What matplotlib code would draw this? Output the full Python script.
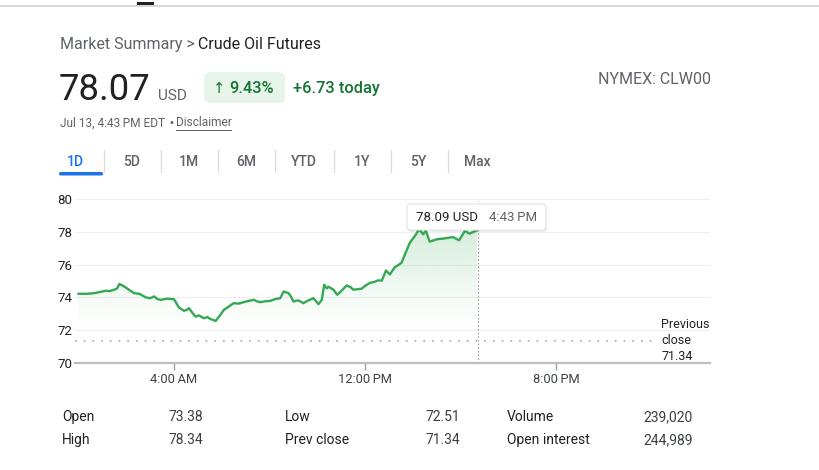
import matplotlib
matplotlib.use("Agg")
import matplotlib.pyplot as plt
import numpy as np
from matplotlib.patches import FancyBboxPatch, Rectangle
from matplotlib.colors import to_rgb

plt.rcParams['font.family'] = ['Roboto', 'DejaVu Sans']

# ---- data (hours since midnight, price in USD) ----
hours = [0.0, 0.35, 0.66, 0.9, 1.15, 1.3, 1.5, 1.62, 1.71, 1.9, 2.1, 2.33, 2.55, 2.82,
         3.0, 3.17, 3.3, 3.44, 3.7, 4.0, 4.21, 4.42, 4.55, 4.63, 4.75, 4.9, 5.05, 5.25,
         5.4, 5.53, 5.65, 5.74, 5.9, 6.09, 6.3, 6.5, 6.7, 6.92, 7.1, 7.34, 7.5, 7.62,
         7.8, 8.03, 8.25, 8.45, 8.59, 8.8, 8.92, 9.0, 9.2, 9.42, 9.6, 9.84, 10.05, 10.19,
         10.29, 10.4, 10.47, 10.68, 10.84, 11.02, 11.23, 11.4, 11.51, 11.7, 11.86, 12.0,
         12.2, 12.4, 12.55, 12.7, 12.88, 13.04, 13.25, 13.53, 13.67, 13.88, 14.09, 14.27,
         14.43, 14.55, 14.71, 14.99, 15.34, 15.69, 15.94, 16.18, 16.38, 16.69]
prices = [74.22, 74.22, 74.26, 74.33, 74.41, 74.38, 74.47, 74.55, 74.82, 74.68, 74.48,
          74.26, 74.22, 74.0, 73.95, 74.06, 73.9, 73.85, 73.92, 73.89, 73.38, 73.18, 73.25,
          73.34, 73.1, 72.83, 72.9, 72.73, 72.8, 72.68, 72.62, 72.56, 72.85, 73.24, 73.45,
          73.65, 73.62, 73.71, 73.78, 73.85, 73.75, 73.71, 73.76, 73.79, 73.9, 73.95, 74.36,
          74.26, 74.0, 73.75, 73.82, 73.65, 73.8, 73.95, 73.59, 73.85, 74.77, 74.55, 74.65,
          74.47, 74.16, 74.41, 74.73, 74.62, 74.47, 74.5, 74.53, 74.7, 74.88, 74.95, 75.04,
          75.02, 75.64, 75.4, 75.84, 76.11, 76.62, 77.34, 77.75, 78.16, 77.85, 78.06, 77.4,
          77.54, 77.6, 77.68, 77.48, 78.05, 77.89, 78.09]

last_price = "78.07"
prev_close = 71.34
now_hour = 16.72
y_ticks = [70, 72, 74, 76, 78, 80]
x_ticks = [4, 12, 20]
x_labels = ["4:00\u2009AM", "12:00\u2009PM", "8:00\u2009PM"]
tabs = ["1D", "5D", "1M", "6M", "YTD", "1Y", "5Y", "Max"]
stats_left = [("Open", "73.38"), ("High", "78.34")]
stats_mid = [("Low", "72.51"), ("Prev close", "71.34")]
stats_right = [("Volume", "239,020"), ("Open interest", "244,989")]

W, H = 819, 470
GREEN = '#34a853'
DARK = '#202124'
GRAY = '#5f6368'

fig = plt.figure(figsize=(W / 100, H / 100), dpi=100)
fig.patch.set_facecolor('white')

# ---- chart ----
left_px, right_px, top_px, bot_px = 75, 710, 199, 363
ax = fig.add_axes([left_px / W, 1 - bot_px / H, (right_px - left_px) / W, (bot_px - top_px) / H])
px_per_hour = 191 / 8
x0 = 4 - (174 - left_px) / px_per_hour
x1 = x0 + (right_px - left_px) / px_per_hour
ax.set_xlim(x0, x1)
ax.set_ylim(70, 80)
for s in ax.spines.values():
    s.set_visible(False)

for yv in y_ticks[1:]:
    ax.axhline(yv, color='#eeeeee', lw=0.8, zorder=0)
ax.axhline(70, color='#bdbdbd', lw=1.6, zorder=3, clip_on=False)

# gradient fill under the line
poly = ax.fill_between(hours, prices, 70, color='none', lw=0)
n = 256
grad = np.zeros((n, 1, 4))
grad[:, 0, :3] = to_rgb(GREEN)
yy = np.linspace(78.4, 70, n)
grad[:, 0, 3] = np.clip((yy - 71.8) / (78.4 - 71.8), 0, 1) ** 1.3 * 0.22
img = ax.imshow(grad, extent=[x0, x1, 70, 78.4], aspect='auto', zorder=1, interpolation='bilinear')
img.set_clip_path(poly.get_paths()[0], transform=ax.transData)

ax.plot(hours, prices, color=GREEN, lw=1.7, zorder=4, solid_joinstyle='round')

# previous close dotted line
ax.plot([x0, x0 + (655 - left_px) / px_per_hour], [prev_close, prev_close],
        color='#9aa0a6', lw=1.1, linestyle=(0, (1.1, 4.6)), zorder=2)
# current time dotted line
ax.axvline(now_hour, ymin=0, ymax=0.99, color='#9aa0a6', lw=0.8, linestyle=(0, (1.5, 1.8)), zorder=2)

ax.set_yticks(y_ticks)
ax.set_yticklabels([str(v) for v in y_ticks])
ax.set_xticks(x_ticks)
ax.set_xticklabels(x_labels)
ax.tick_params(axis='y', length=0, pad=2, labelsize=9.5, labelcolor=DARK)
ax.tick_params(axis='x', length=5, width=1, color='#9aa0a6', pad=2, labelsize=9.3, labelcolor='#3c4043')
ax.patch.set_alpha(0)

# ---- overlay in pixel coordinates ----
ov = fig.add_axes([0, 0, 1, 1], zorder=5)
ov.set_xlim(0, W)
ov.set_ylim(H, 0)
ov.axis('off')
ov.patch.set_alpha(0)

# top bar
ov.plot([0, W], [5.5, 5.5], color='#d0d0d0', lw=1.2)
ov.add_patch(Rectangle((137, 1.5), 17, 3.5, color='#202124', lw=0))

ov.text(60, 44.5, "Market Summary > ", fontsize=11.5, color=GRAY, va='center')
ov.text(198.5, 44.5, "Crude Oil Futures", fontsize=11.5, color=DARK, va='center')

ov.text(58.5, 100.5, last_price, fontsize=26.3, color=DARK, va='baseline')
ov.text(158, 100.5, "USD", fontsize=11, color=GRAY, va='baseline')

ov.add_patch(FancyBboxPatch((204, 72), 81, 31, boxstyle="round,pad=0,rounding_size=7",
                            facecolor='#e6f4ea', edgecolor='none'))
ov.text(213, 88.5, "\u2191", fontsize=10.5, color='#137333', va='center', family=['DejaVu Sans'])
ov.text(229, 88.5, "9.43%", fontsize=11.8, color='#137333', va='center', fontweight='medium')
ov.text(293, 88.5, "+6.73 today", fontsize=11.8, color='#137333', va='center', fontweight='medium')

ov.text(711, 80, "NYMEX: CLW00", fontsize=11.5, color=GRAY, va='center', ha='right')

ov.text(60, 123, "Jul 13, 4:43\u2009PM EDT", fontsize=8.6, color=GRAY, va='center')
ov.text(168.5, 123, "\u2022", fontsize=7, color=GRAY, va='center', family=['DejaVu Sans'])
ov.text(176, 123, "Disclaimer", fontsize=8.6, color=GRAY, va='center')
ov.plot([176, 231], [129.5, 129.5], color=GRAY, lw=0.7)

# tabs
tab_x = [75, 132, 188.5, 246, 304, 362, 418.5, 477.5]
sep_x = [103.5, 160.5, 217.5, 274.5, 333.5, 390.5, 447.5]
for t, tx in zip(tabs, tab_x):
    ov.text(tx, 161.5, t, fontsize=10, color='#1a73e8' if t == "1D" else GRAY,
            ha='center', va='center', fontweight='medium')
for sx in sep_x:
    ov.plot([sx, sx], [150, 172], color='#dadce0', lw=0.9)
ov.add_patch(FancyBboxPatch((59, 172), 44, 3.5, boxstyle="round,pad=0,rounding_size=1.7",
                            facecolor='#1a73e8', edgecolor='none'))

# tooltip
ov.add_patch(FancyBboxPatch((408, 206), 139, 26, boxstyle="round,pad=0,rounding_size=3",
                            facecolor='#000000', edgecolor='none', alpha=0.07))
ov.add_patch(FancyBboxPatch((407, 204), 139, 26, boxstyle="round,pad=0,rounding_size=3",
                            facecolor='white', edgecolor='#e3e3e3', lw=0.8))
ov.text(416, 217.5, f"{prices[-1]:.2f} USD", fontsize=9.5, color=DARK, va='center')
ov.text(489, 217.5, "4:43\u2009PM", fontsize=9.5, color=GRAY, va='center')

# previous close label
ov.text(661, 325, "Previous", fontsize=9, color=DARK, va='center')
ov.text(661, 340.5, "close", fontsize=9, color=DARK, va='center')
ov.text(661, 356, f"{prev_close:.2f}", fontsize=9, color=DARK, va='center')

# stats table
rows_y = [417, 440]
for col, (lx, vx) in zip([stats_left, stats_mid, stats_right], [(62, 203), (285, 460), (507, 693)]):
    for (lab, val), ry in zip(col, rows_y):
        ov.text(lx, ry, lab, fontsize=10, color=DARK, va='center')
        ov.text(vx, ry, val, fontsize=10, color='#3c4043', va='center', ha='right')

fig.savefig("out.png", dpi=100)
